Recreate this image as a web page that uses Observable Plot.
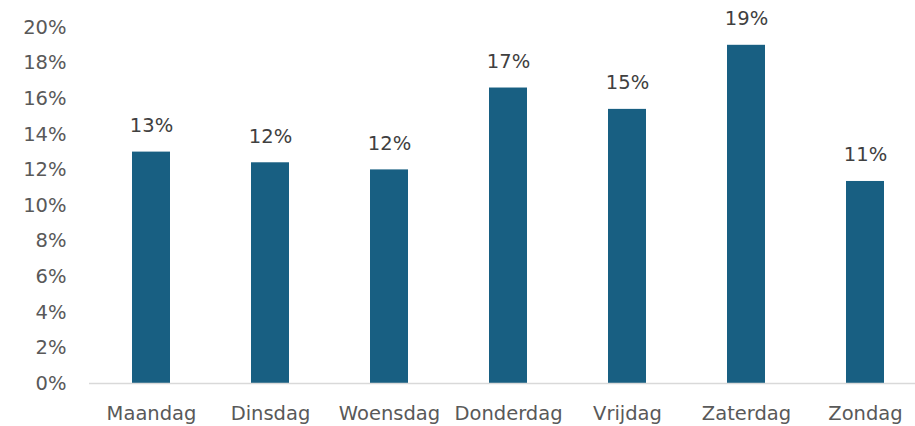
<!DOCTYPE html>
<html>
<head>
<meta charset="utf-8">
<script src="https://cdn.jsdelivr.net/npm/d3@7"></script>
<script src="https://cdn.jsdelivr.net/npm/@observablehq/plot@0.6"></script>
<style>
  html, body { margin: 0; padding: 0; background: #fff; overflow: hidden; }
  #chart svg { display: block; }
</style>
</head>
<body>
<div id="chart"></div>
<script>
const days = ["Maandag", "Dinsdag", "Woensdag", "Donderdag", "Vrijdag", "Zaterdag", "Zondag"];
const shares = [13.0, 12.4, 12.0, 16.6, 15.4, 19.0, 11.35];
const yTicks = [0, 2, 4, 6, 8, 10, 12, 14, 16, 18, 20];

const data = days.map((d, i) => ({day: d, value: shares[i]}));

const chart = Plot.plot({
  width: 915,
  height: 426,
  marginLeft: 89,
  marginRight: -12,
  marginTop: 27,
  marginBottom: 43,
  style: {fontFamily: "'DejaVu Sans', sans-serif", fontSize: "19.5px", background: "#fff"},
  x: {domain: days, paddingInner: 0.68, paddingOuter: 0.34, label: null},
  y: {domain: [0, 20], label: null},
  marks: [
    Plot.barY(data, {x: "day", y: "value", fill: "#185f82"}),
    Plot.ruleY([0], {stroke: "#d9d9d9", strokeWidth: 1.5}),
    Plot.text(data, {x: "day", y: "value", text: d => Math.round(d.value) + "%", lineAnchor: "bottom", dy: -20, fill: "#404040", fontSize: 19.5}),
    Plot.axisY({ticks: yTicks, tickFormat: d => d + "%", tickSize: 0, tickPadding: 23, fill: "#595959", fontSize: 19.5}),
    Plot.axisX({tickSize: 0, tickPadding: 23, fill: "#595959", fontSize: 19.5})
  ]
});
document.getElementById("chart").appendChild(chart);
</script>
</body>
</html>
